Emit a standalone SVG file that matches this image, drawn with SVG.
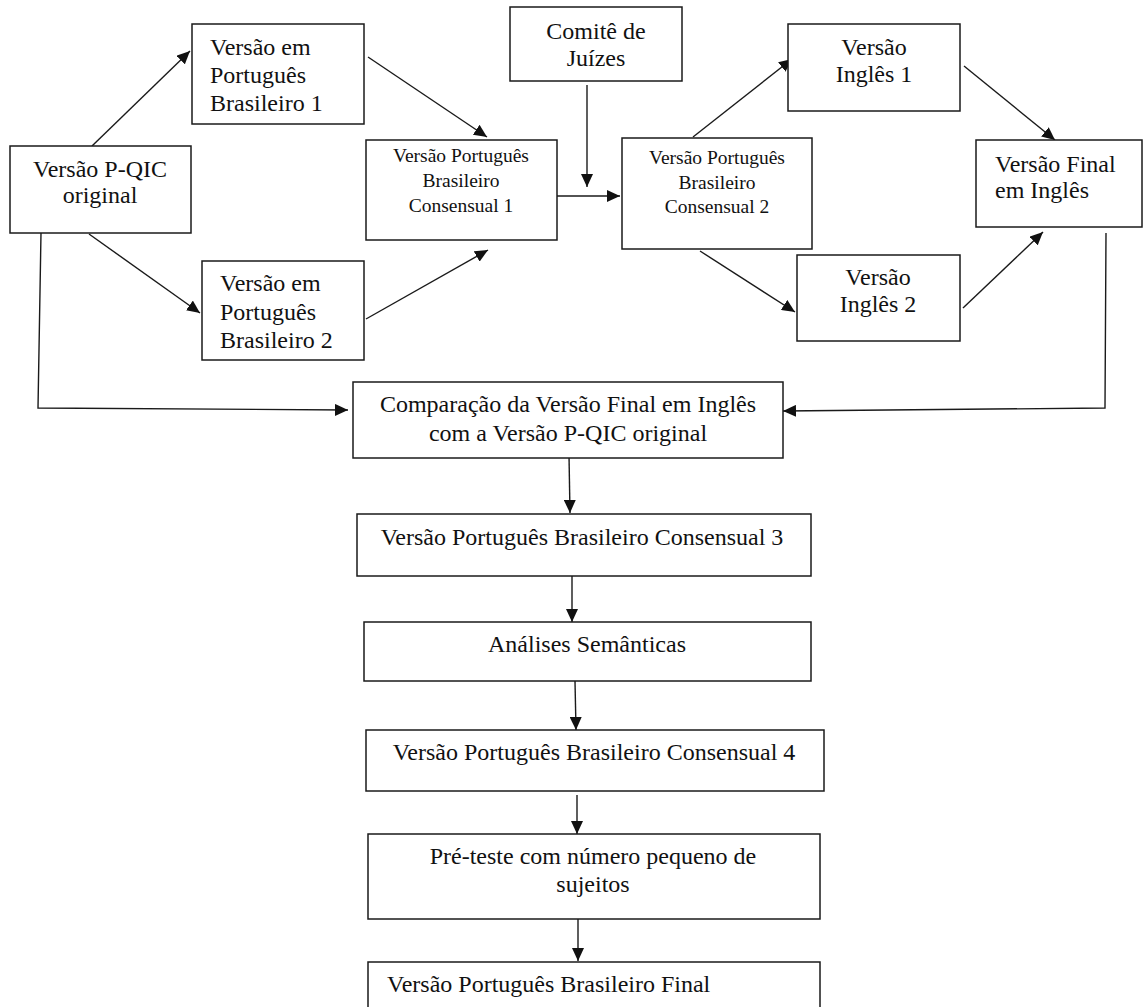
<svg xmlns="http://www.w3.org/2000/svg" width="1144" height="1007" viewBox="0 0 1144 1007">
<style>
.box{fill:#fff;stroke:#1a1a1a;stroke-width:1.5}
.t{font-family:"Liberation Serif","Times New Roman",serif;font-size:24px;fill:#111}
.s{font-family:"Liberation Serif","Times New Roman",serif;font-size:19.5px;fill:#111}
.c{text-anchor:middle}
.ln{fill:none;stroke:#1a1a1a;stroke-width:1.4}
</style>
<defs>
<marker id="ah" markerUnits="userSpaceOnUse" markerWidth="14" markerHeight="12" refX="13" refY="6" orient="auto">
<path d="M0,0 L13,6 L0,12 Z" fill="#111"/>
</marker>
</defs>
<rect width="1144" height="1007" fill="#fff"/>
<g id="connectors">
<line class="ln" x1="92" y1="146" x2="190" y2="51" marker-end="url(#ah)"/>
<line class="ln" x1="89" y1="234" x2="200" y2="313" marker-end="url(#ah)"/>
<polyline class="ln" points="41,233 38,408 348,410" marker-end="url(#ah)"/>
<line class="ln" x1="368" y1="57" x2="487" y2="137" marker-end="url(#ah)"/>
<line class="ln" x1="366" y1="319" x2="488" y2="250" marker-end="url(#ah)"/>
<line class="ln" x1="587" y1="85" x2="587" y2="187" marker-end="url(#ah)"/>
<line class="ln" x1="557" y1="196" x2="620" y2="196" marker-end="url(#ah)"/>
<line class="ln" x1="693" y1="137" x2="792" y2="59" marker-end="url(#ah)"/>
<line class="ln" x1="700" y1="251" x2="795" y2="312" marker-end="url(#ah)"/>
<line class="ln" x1="964" y1="66" x2="1055" y2="140" marker-end="url(#ah)"/>
<line class="ln" x1="963" y1="308" x2="1043" y2="232" marker-end="url(#ah)"/>
<polyline class="ln" points="1106,233 1105,408 783,411" marker-end="url(#ah)"/>
<line class="ln" x1="569" y1="455" x2="570" y2="513" marker-end="url(#ah)"/>
<line class="ln" x1="572" y1="576" x2="572" y2="622" marker-end="url(#ah)"/>
<line class="ln" x1="575" y1="681" x2="576" y2="730" marker-end="url(#ah)"/>
<line class="ln" x1="577" y1="795" x2="577" y2="834" marker-end="url(#ah)"/>
<line class="ln" x1="578" y1="919" x2="578" y2="961" marker-end="url(#ah)"/>
</g>
<g id="pqic">
<rect class="box" x="10" y="146" width="181" height="87"/>
<text class="t c" x="100" y="177">Versão P-QIC</text>
<text class="t c" x="100" y="203">original</text>
</g>
<g id="pb1">
<rect class="box" x="192" y="24" width="172" height="100"/>
<text class="t" x="210" y="55">Versão em</text>
<text class="t" x="210" y="83">Português</text>
<text class="t" x="210" y="111">Brasileiro 1</text>
</g>
<g id="pb2">
<rect class="box" x="202" y="261" width="162" height="99"/>
<text class="t" x="220" y="291">Versão em</text>
<text class="t" x="220" y="320">Português</text>
<text class="t" x="220" y="348">Brasileiro 2</text>
</g>
<g id="comite">
<rect class="box" x="510" y="7" width="172" height="74"/>
<text class="t c" x="596" y="39">Comitê de</text>
<text class="t c" x="596" y="66">Juízes</text>
</g>
<g id="cons1">
<rect class="box" x="366" y="140" width="191" height="100"/>
<text class="s c" x="461" y="162">Versão Português</text>
<text class="s c" x="461" y="187">Brasileiro</text>
<text class="s c" x="461" y="212">Consensual 1</text>
</g>
<g id="cons2">
<rect class="box" x="622" y="138" width="190" height="111"/>
<text class="s c" x="717" y="164">Versão Português</text>
<text class="s c" x="717" y="189">Brasileiro</text>
<text class="s c" x="717" y="213">Consensual 2</text>
</g>
<g id="ing1">
<rect class="box" x="788" y="24" width="172" height="87"/>
<text class="t c" x="874" y="55">Versão</text>
<text class="t c" x="874" y="82">Inglês 1</text>
</g>
<g id="ing2">
<rect class="box" x="797" y="255" width="163" height="86"/>
<text class="t c" x="878" y="285">Versão</text>
<text class="t c" x="878" y="312">Inglês 2</text>
</g>
<g id="final-en">
<rect class="box" x="976" y="140" width="166" height="87"/>
<text class="t" x="995" y="172">Versão Final</text>
<text class="t" x="995" y="198">em Inglês</text>
</g>
<g id="comparacao">
<rect class="box" x="353" y="382" width="430" height="76"/>
<text class="t c" x="568" y="412">Comparação da Versão Final em Inglês</text>
<text class="t c" x="568" y="441">com a Versão P-QIC original</text>
</g>
<g id="cons3">
<rect class="box" x="357" y="514" width="454" height="62"/>
<text class="t c" x="582" y="545">Versão Português Brasileiro Consensual 3</text>
</g>
<g id="analises">
<rect class="box" x="364" y="622" width="447" height="59"/>
<text class="t c" x="587" y="652">Análises Semânticas</text>
</g>
<g id="cons4">
<rect class="box" x="366" y="730" width="458" height="61"/>
<text class="t c" x="594" y="760">Versão Português Brasileiro Consensual 4</text>
</g>
<g id="preteste">
<rect class="box" x="368" y="834" width="452" height="85"/>
<text class="t c" x="593" y="864">Pré-teste com número pequeno de</text>
<text class="t c" x="593" y="892">sujeitos</text>
</g>
<g id="final-pb">
<rect class="box" x="368" y="962" width="452" height="60"/>
<text class="t" x="387" y="992">Versão Português Brasileiro Final</text>
</g>
</svg>
